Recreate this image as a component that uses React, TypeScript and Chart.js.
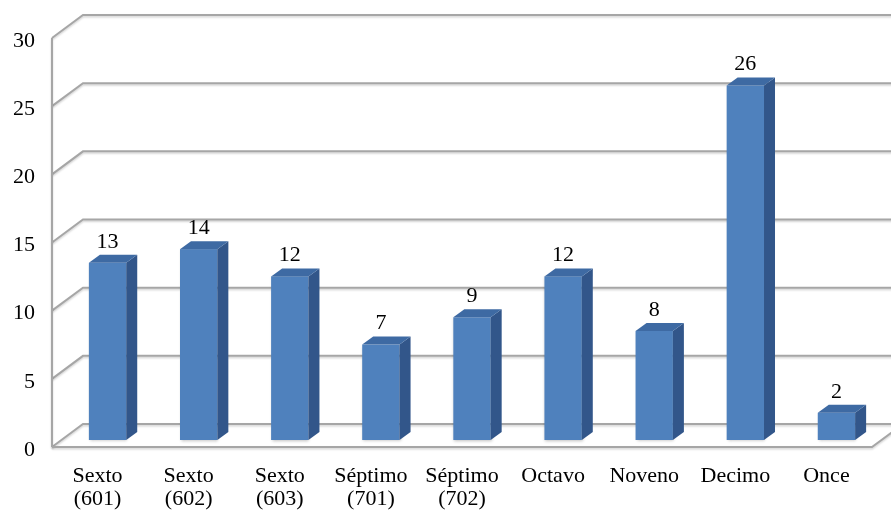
import React, { useEffect, useRef } from "react";
import { Chart, registerables } from "chart.js";

Chart.register(...registerables);

const categories: string[][] = [
  ["Sexto", "(601)"],
  ["Sexto", "(602)"],
  ["Sexto", "(603)"],
  ["Séptimo", "(701)"],
  ["Séptimo", "(702)"],
  ["Octavo"],
  ["Noveno"],
  ["Decimo"],
  ["Once"],
];
const values: number[] = [13, 14, 12, 7, 9, 12, 8, 26, 2];
const yMin = 0;
const yMax = 30;
const yStep = 5;

const FONT = "'Liberation Serif', 'Times New Roman', serif";
const DEPTH_X = 31;
const DEPTH_Y = -23;
const BAR_OFF_X = 10;
const BAR_OFF_Y = -7;
const BAR_DEPTH_X = 11;
const BAR_DEPTH_Y = -8;

const threeD = {
  id: "threeD",
  beforeDatasetsDraw(chart: any) {
    const ctx = chart.ctx as CanvasRenderingContext2D;
    const y = chart.scales.y;
    const area = chart.chartArea;
    ctx.save();
    ctx.lineWidth = 2;
    ctx.strokeStyle = "#A6A6A6";
    ctx.shadowColor = "rgba(0,0,0,0.18)";
    ctx.shadowBlur = 2;
    ctx.shadowOffsetY = 1.5;
    ctx.lineCap = "butt";
    for (let v = yMin; v <= yMax; v += yStep) {
      const py = y.getPixelForValue(v);
      ctx.beginPath();
      ctx.moveTo(area.left, py);
      ctx.lineTo(area.left + DEPTH_X, py + DEPTH_Y);
      ctx.lineTo(area.right + DEPTH_X + 40, py + DEPTH_Y);
      ctx.stroke();
    }
    ctx.beginPath();
    ctx.moveTo(area.left, y.getPixelForValue(yMax));
    ctx.lineTo(area.left, y.getPixelForValue(yMin));
    ctx.stroke();
    const p0 = y.getPixelForValue(yMin);
    ctx.beginPath();
    ctx.moveTo(area.left, p0);
    ctx.lineTo(area.right, p0);
    ctx.lineTo(area.right + DEPTH_X, p0 + DEPTH_Y);
    ctx.stroke();
    ctx.restore();
  },
  afterDatasetsDraw(chart: any) {
    const ctx = chart.ctx as CanvasRenderingContext2D;
    const meta = chart.getDatasetMeta(0);
    ctx.save();
    meta.data.forEach((bar: any, i: number) => {
      const w = bar.width;
      const x0 = bar.x - w / 2 + BAR_OFF_X;
      const x1 = bar.x + w / 2 + BAR_OFF_X;
      const yt = bar.y + BAR_OFF_Y;
      const yb = bar.base + BAR_OFF_Y;
      ctx.save();
      ctx.shadowColor = "rgba(0,0,0,0.25)";
      ctx.shadowBlur = 3;
      ctx.shadowOffsetX = 1;
      ctx.shadowOffsetY = 1;
      ctx.fillStyle = "#4F81BD";
      ctx.fillRect(x0, yt, x1 - x0, yb - yt);
      ctx.restore();
      ctx.fillStyle = "#32568A";
      ctx.beginPath();
      ctx.moveTo(x1, yt);
      ctx.lineTo(x1 + BAR_DEPTH_X, yt + BAR_DEPTH_Y);
      ctx.lineTo(x1 + BAR_DEPTH_X, yb + BAR_DEPTH_Y);
      ctx.lineTo(x1, yb);
      ctx.closePath();
      ctx.fill();
      ctx.fillStyle = "#3E6AA3";
      ctx.beginPath();
      ctx.moveTo(x0, yt);
      ctx.lineTo(x1, yt);
      ctx.lineTo(x1 + BAR_DEPTH_X, yt + BAR_DEPTH_Y);
      ctx.lineTo(x0 + BAR_DEPTH_X, yt + BAR_DEPTH_Y);
      ctx.closePath();
      ctx.fill();
      ctx.fillStyle = "#000";
      ctx.font = `22px ${FONT}`;
      ctx.textAlign = "center";
      ctx.textBaseline = "middle";
      ctx.fillText(String(values[i]), (x0 + x1) / 2, yt - 21);
    });
    ctx.restore();
  },
};

export default function App() {
  const ref = useRef<HTMLCanvasElement | null>(null);
  useEffect(() => {
    document.body.style.margin = "0";
    const canvas = ref.current;
    if (!canvas) return;
    const chart = new Chart(canvas, {
      type: "bar",
      data: {
        labels: categories,
        datasets: [
          {
            data: values,
            backgroundColor: "rgba(0,0,0,0)",
            borderWidth: 0,
            barPercentage: 0.41,
            categoryPercentage: 1,
          },
        ],
      },
      options: {
        animation: false,
        responsive: true,
        maintainAspectRatio: false,
        layout: { padding: { top: 38, right: 19, left: 0, bottom: 0 } },
        plugins: {
          legend: { display: false },
          tooltip: { enabled: false },
        },
        scales: {
          x: {
            offset: true,
            grid: { display: false, drawTicks: false },
            border: { display: false },
            ticks: {
              color: "#000",
              padding: 18,
              maxRotation: 0,
              autoSkip: false,
              font: { family: FONT, size: 22, lineHeight: 1.05 },
            },
            afterFit: (s: any) => {
              s.height = 63;
              s.paddingLeft = 0;
              s.paddingRight = 0;
            },
          },
          y: {
            min: yMin,
            max: yMax,
            grid: { display: false, drawTicks: false },
            border: { display: false },
            ticks: {
              stepSize: yStep,
              color: "#000",
              padding: 17,
              labelOffset: 3,
              font: { family: FONT, size: 22 },
            },
            afterFit: (s: any) => {
              s.width = 52;
              s.paddingTop = 0;
              s.paddingBottom = 0;
            },
          },
        },
      },
      plugins: [threeD],
    });
    return () => chart.destroy();
  }, []);
  return (
    <div style={{ position: "relative", width: 891, height: 510 }}>
      <canvas ref={ref} />
    </div>
  );
}
